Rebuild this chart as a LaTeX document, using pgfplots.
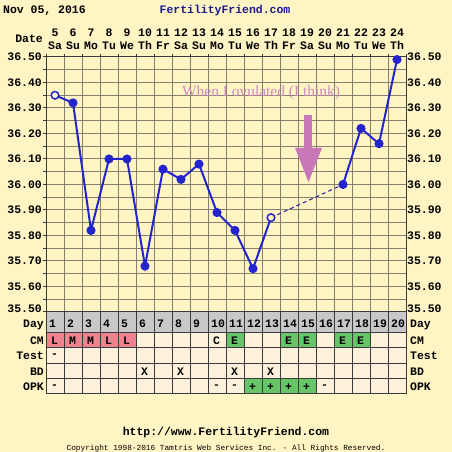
\documentclass[border=0pt]{standalone}
\usepackage{pgfplots}
\pgfplotsset{compat=1.18}
\usepackage{fontspec}
\newfontfamily\mono{Liberation Mono}
\newfontfamily\ser{Liberation Serif}
\definecolor{bg}{HTML}{FFF4C4}
\definecolor{gridc}{HTML}{858070}
\definecolor{cell}{HTML}{FDF1DC}
\definecolor{pinkc}{HTML}{EE8490}
\definecolor{greenc}{HTML}{68C468}
\definecolor{dayc}{HTML}{C8C8C8}
\definecolor{tline}{HTML}{3A3A3A}
\definecolor{bluec}{HTML}{2424CC}
\definecolor{dashc}{HTML}{2020A0}
\definecolor{annc}{HTML}{CC8CBE}
\definecolor{arrc}{HTML}{C878B8}
\definecolor{ffblue}{HTML}{1C1C90}
\newcommand\lab{\mono\bfseries\fontsize{11.5}{13}\selectfont}
\begin{document}
\begin{tikzpicture}[x=1bp,y=1bp]
\useasboundingbox (0,0) rectangle (452,452);
\fill[bg] (0,0) rectangle (452,452);
\begin{axis}[at={(46bp,140bp)}, anchor=south west, scale only axis,
  width=360bp, height=255bp,
  xmin=0.5, xmax=20.5, ymin=35.5, ymax=36.5,
  axis background/.style={fill=bg},
  xtick={1,2,3,4,5,6,7,8,9,10,11,12,13,14,15,16,17,18,19,20},
  xticklabels={{5\\Sa},{6\\Su},{7\\Mo},{8\\Tu},{9\\We},{10\\Th},{11\\Fr},{12\\Sa},{13\\Su},{14\\Mo},{15\\Tu},{16\\We},{17\\Th},{18\\Fr},{19\\Sa},{20\\Su},{21\\Mo},{22\\Tu},{23\\We},{24\\Th}},
  xticklabel pos=upper, xtick pos=upper,
  xticklabel style={align=center, font=\lab, inner sep=1bp, yshift=3bp},
  minor xtick={0.5,1.5,2.5,3.5,4.5,5.5,6.5,7.5,8.5,9.5,10.5,11.5,12.5,13.5,14.5,15.5,16.5,17.5,18.5,19.5,20.5},
  ytick={35.6,35.7,35.8,35.9,36.0,36.1,36.2,36.3,36.4,36.5},
  yticklabels={35.60,35.70,35.80,35.90,36.00,36.10,36.20,36.30,36.40,36.50},
  extra y ticks={35.5}, extra y tick labels={35.50},
  extra y tick style={yticklabel style={yshift=3bp}},
  minor ytick={35.55,35.65,35.75,35.85,35.95,36.05,36.15,36.25,36.35,36.45},
  ytick pos=left,
  yticklabel style={font=\lab, inner sep=1bp},
  xmajorgrids=false, xminorgrids=true, ymajorgrids=true, yminorgrids=true,
  grid style={gridc, line width=1bp},
  minor grid style={gridc, line width=1bp},
  major x tick style={draw=none},
  tick align=outside, major tick length=3bp, minor tick length=3bp,
  tick style={tline, line width=1bp},
  axis line style={tline, line width=1bp},
]
\addplot[bluec, line width=2bp, mark=*, mark size=3.5bp, mark options={fill=bluec, solid}] coordinates {
(1,36.35) (2,36.32) (3,35.82) (4,36.10) (5,36.10) (6,35.68) (7,36.06) (8,36.02) (9,36.08) (10,35.89) (11,35.82) (12,35.67) (13,35.87)};
\addplot[dashc, line width=1bp, dash pattern=on 4bp off 3bp] coordinates {(13,35.87) (17,36.00)};
\addplot[bluec, line width=2bp, mark=*, mark size=3.5bp, mark options={fill=bluec, solid}] coordinates {
(17,36.00) (18,36.22) (19,36.16) (20,36.49)};
\addplot[bluec, only marks, mark=*, mark size=3.5bp, mark options={fill=bg, line width=1bp}] coordinates {(1,36.35) (13,35.87)};
\end{axis}
\begin{axis}[at={(46bp,140bp)}, anchor=south west, scale only axis,
  width=360bp, height=255bp,
  xmin=0.5, xmax=20.5, ymin=35.5, ymax=36.5,
  axis x line=none, axis y line*=right,
  ytick={35.6,35.7,35.8,35.9,36.0,36.1,36.2,36.3,36.4,36.5},
  yticklabels={35.60,35.70,35.80,35.90,36.00,36.10,36.20,36.30,36.40,36.50},
  extra y ticks={35.5}, extra y tick labels={35.50},
  extra y tick style={yticklabel style={yshift=3bp}},
  yticklabel pos=right,
  yticklabel style={font=\lab, inner sep=1bp},
  y axis line style={draw=none}, ytick style={draw=none},
]
\addplot[draw=none] coordinates {(1,36)};
\end{axis}
\begin{scope}[shift={(0,452)}, y=-1bp]
% header
\node[anchor=west, font=\lab, inner sep=0] at (3,11) {Nov 05, 2016};
\node[font=\lab, text=ffblue, inner sep=0] at (225,11) {FertilityFriend.com};
\node[anchor=east, font=\lab, inner sep=0] at (43,39) {Date};
% annotation
\node[font=\ser\fontsize{15.5}{17}\selectfont, text=annc, inner sep=0] at (261,93) {When I ovulated (I think)};
\fill[arrc] (304,115) rectangle (312,149);
\fill[arrc] (295,148) -- (322,148) -- (308.5,182) -- cycle;
% table
\fill[dayc] (46,312) rectangle (406,333);
\fill[cell] (46,333) rectangle (406,394);
\fill[pinkc] (46,333) rectangle (136,348);
\foreach \d in {11,14,15,17,18} \fill[greenc] ({46+18*(\d-1)},333) rectangle ({46+18*\d},348);
\fill[greenc] (244,379) rectangle (316,394);
\foreach \i in {0,...,20} \draw[tline, line width=1bp] ({46+18*\i},312) -- ({46+18*\i},394);
\foreach \yy in {312,333,348,364,379,394} \draw[tline, line width=1bp] (46,\yy) -- (406,\yy);
\foreach \d in {1,...,20} \node[anchor=west, font=\lab, inner sep=0] at ({46+18*(\d-1)+3},324) {\d};
\foreach \d/\t in {1/L,2/M,3/M,4/L,5/L,10/C,11/E,14/E,15/E,17/E,18/E}
  \node[anchor=west, font=\lab, inner sep=0] at ({46+18*(\d-1)+5},341) {\t};
\node[anchor=west, font=\lab, inner sep=0] at (51,356) {-};
\foreach \d in {6,8,11,13}
  \node[anchor=west, font=\lab, inner sep=0] at ({46+18*(\d-1)+5},371.5) {X};
\foreach \d/\t in {1/-,10/-,11/-,12/+,13/+,14/+,15/+,16/-}
  \node[anchor=west, font=\lab, inner sep=0] at ({46+18*(\d-1)+5},387) {\t};
\foreach \t/\yy in {Day/325,CM/341,Test/356,BD/371.5,OPK/387} {
  \node[anchor=east, font=\lab, inner sep=0] at (44,\yy) {\t};
  \node[anchor=west, font=\lab, inner sep=0] at (410,\yy) {\t};
}
% footer
\node[font=\lab, inner sep=0] at (226,433) {http://www.FertilityFriend.com};
\node[font=\mono\fontsize{7.8}{9}\selectfont, inner sep=0] at (226,448) {Copyright 1998-2016 Tamtris Web Services Inc. - All Rights Reserved.};
\end{scope}
\end{tikzpicture}
\end{document}
